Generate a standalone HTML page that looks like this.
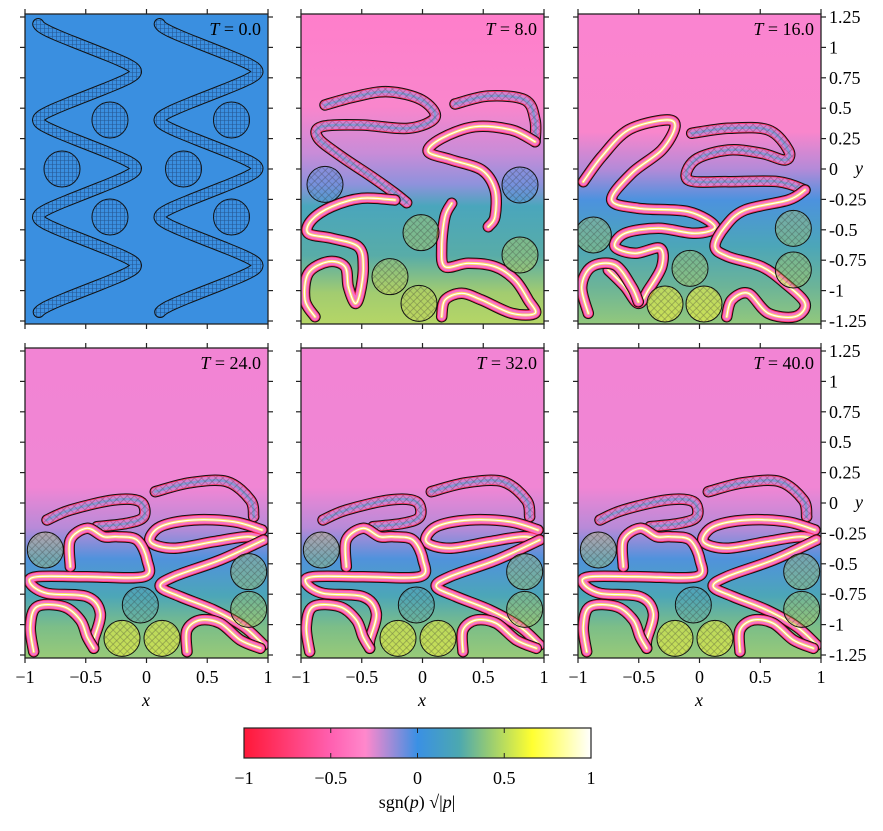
<!DOCTYPE html>
<html><head><meta charset="utf-8"><style>
body{margin:0;background:#fff;width:883px;height:826px;overflow:hidden}
text{font-family:"Liberation Serif",serif;fill:#000}
</style></head><body>
<svg id="s" width="883" height="826" xmlns="http://www.w3.org/2000/svg">
<defs>
<pattern id="hb" width="4" height="4" patternUnits="userSpaceOnUse"><path d="M0 0.5H4M0.5 0V4" stroke="#1a3d70" stroke-width="0.6" opacity="0.7"/></pattern>
<pattern id="hx" width="5" height="5" patternUnits="userSpaceOnUse" patternTransform="rotate(45)"><path d="M0 0.5H5M0.5 0V5" stroke="#333" stroke-width="0.6" opacity="0.5"/></pattern>
<linearGradient id="g2" x1="0" y1="0" x2="0" y2="1">
<stop offset="0" stop-color="#ff7ecb"/><stop offset="0.3" stop-color="#f986cc"/><stop offset="0.45" stop-color="#c88cd8"/><stop offset="0.55" stop-color="#8e92dc"/><stop offset="0.62" stop-color="#4aa6bc"/><stop offset="0.78" stop-color="#58aca8"/><stop offset="0.9" stop-color="#a2cc70"/><stop offset="1" stop-color="#b5d666"/></linearGradient>
<linearGradient id="g3" x1="0" y1="0" x2="0" y2="1">
<stop offset="0" stop-color="#fa84d0"/><stop offset="0.38" stop-color="#f986cc"/><stop offset="0.5" stop-color="#b48ad8"/><stop offset="0.6" stop-color="#4c92de"/><stop offset="0.75" stop-color="#4ca6b8"/><stop offset="0.88" stop-color="#6cb498"/><stop offset="1" stop-color="#92c87c"/></linearGradient>
<linearGradient id="g4" x1="0" y1="0" x2="0" y2="1">
<stop offset="0" stop-color="#f284d4"/><stop offset="0.45" stop-color="#f086d4"/><stop offset="0.58" stop-color="#b88ad8"/><stop offset="0.68" stop-color="#5092dc"/><stop offset="0.8" stop-color="#4ca6b8"/><stop offset="0.9" stop-color="#7cbe88"/><stop offset="1" stop-color="#98ca78"/></linearGradient>
<linearGradient id="gc" x1="0" y1="0" x2="1" y2="0">
<stop offset="0" stop-color="#ff1838"/><stop offset="0.25" stop-color="#ff60b0"/><stop offset="0.35" stop-color="#ff88cc"/><stop offset="0.5" stop-color="#3a90e4"/><stop offset="0.62" stop-color="#4ca8b0"/><stop offset="0.7" stop-color="#90c878"/><stop offset="0.83" stop-color="#ffff30"/><stop offset="1" stop-color="#ffffff"/></linearGradient>
<clipPath id="c1"><rect x="25" y="14" width="243" height="310"/></clipPath>
<clipPath id="c2"><rect x="301" y="14" width="243" height="310"/></clipPath>
<clipPath id="c3"><rect x="578" y="14" width="243" height="310"/></clipPath>
<clipPath id="c4"><rect x="25" y="348" width="243" height="310"/></clipPath>
<clipPath id="c5"><rect x="301" y="348" width="243" height="310"/></clipPath>
<clipPath id="c6"><rect x="578" y="348" width="243" height="310"/></clipPath>
</defs>
</svg>
<script>
const S=document.getElementById('s');const NS='http://www.w3.org/2000/svg';
function el(t,a,p){const e=document.createElementNS(NS,t);for(const k in a)e.setAttribute(k,a[k]);(p||S).appendChild(e);return e;}
function cr(pts){let d='M'+pts[0][0].toFixed(1)+' '+pts[0][1].toFixed(1);for(let i=0;i<pts.length-1;i++){const p0=pts[Math.max(0,i-1)],p1=pts[i],p2=pts[i+1],p3=pts[Math.min(pts.length-1,i+2)];
const c1=[p1[0]+(p2[0]-p0[0])/6,p1[1]+(p2[1]-p0[1])/6],c2=[p2[0]-(p3[0]-p1[0])/6,p2[1]-(p3[1]-p1[1])/6];
d+=` C${c1[0].toFixed(1)} ${c1[1].toFixed(1)} ${c2[0].toFixed(1)} ${c2[1].toFixed(1)} ${p2[0].toFixed(1)} ${p2[1].toFixed(1)}`;}return d;}
function poly(pts){return 'M'+pts.map(p=>p[0].toFixed(1)+' '+p[1].toFixed(1)).join(' L');}
const panels=[[25,14],[301,14],[578,14],[25,348],[301,348],[578,348]];
const bgs=['#3a8fe0','url(#g2)','url(#g3)','url(#g4)','url(#g4)','url(#g4)'];
panels.forEach((p,i)=>el('rect',{x:p[0],y:p[1],width:243,height:310,fill:bgs[i]}));
function band(g,pts,top){const d=cr(pts);const o={d,fill:'none','stroke-linecap':'round','stroke-linejoin':'round'};
 el('path',Object.assign({},o,{stroke:'#111','stroke-width':11.5}),g);
 el('path',Object.assign({},o,{stroke:'#ff2a5a','stroke-width':9.5}),g);
 el('path',Object.assign({},o,{stroke:top?'#d880d0':'#f574c6','stroke-width':8}),g);
 if(!top){el('path',Object.assign({},o,{stroke:'#ffff50','stroke-width':3,opacity:0.8}),g);
 el('path',Object.assign({},o,{stroke:'#ffffff','stroke-width':1.2}),g);}
 else el('path',Object.assign({},o,{stroke:'#6aa0d8','stroke-width':2.5,opacity:0.7}),g);
 if(top) el('path',Object.assign({},o,{stroke:'url(#hx)','stroke-width':8}),g);}
function circ(g,cx,cy,fill,op){el('circle',{cx,cy,r:18,fill:fill||'#68a8a0','fill-opacity':op||0.35,stroke:'#111','stroke-width':1},g);el('circle',{cx,cy,r:18,fill:'url(#hx)'},g);}
{const g=el('g',{'clip-path':'url(#c1)'});
 for(let k=0;k<2;k++){const ox=k*121.5;const pts=[];
  for(let py=24;py<=312;py+=1.5){const ph=(py-120)/48.5*Math.PI;const v=Math.asin(0.9*Math.cos(ph))/Math.asin(0.9);pts.push([ox+87-v*49,py]);}
  const d=poly(pts);
  el('path',{d,fill:'none',stroke:'#111','stroke-width':12,'stroke-linecap':'round','stroke-linejoin':'round'},g);
  el('path',{d,fill:'none',stroke:'#3a8fe0','stroke-width':10,'stroke-linecap':'round','stroke-linejoin':'round'},g);
  el('path',{d,fill:'none',stroke:'url(#hb)','stroke-width':10,'stroke-linecap':'round','stroke-linejoin':'round'},g);
  [[110,120],[62,169],[110,217]].forEach(c=>{el('circle',{cx:c[0]+ox,cy:c[1],r:18,fill:'#3a8fe0',stroke:'#111','stroke-width':1},g);el('circle',{cx:c[0]+ox,cy:c[1],r:18,fill:'url(#hb)'},g);});
 }}
const z3=a=>a.map(q=>[295+q[0]/3,80+q[1]/3]);
{const g=el('g',{'clip-path':'url(#c2)'});
 [[[90,75],[180,50],[280,35],[380,60],[420,112],[340,145],[200,135],[80,140],[70,175],[140,230],[230,290],[300,340],[335,368]],
  [[480,72],[580,48],[690,60],[720,120],[720,185]]].forEach(b=>band(g,z3(b),true));
 [[[720,185],[650,150],[540,140],[440,175],[400,215],[470,240],[560,270],[600,330],[600,410],[580,440]],
  [[300,360],[200,355],[110,380],[50,420],[40,460],[110,475],[190,500],[205,560],[195,640],[180,670],[160,620],[150,560],[100,545],[40,580],[30,660],[60,710]],
  [[470,370],[450,410],[440,500],[450,560],[520,550],[600,560],[660,600],[700,660],[720,700],[650,700],[560,660],[500,640],[450,660],[440,710]]].forEach(b=>band(g,z3(b)));
 z3([[90,313],[675,315]]).forEach(c=>circ(g,c[0],c[1],'#4a90e0'));
 z3([[378,458],[675,525],[285,590],[372,670]]).forEach(c=>circ(g,c[0],c[1],'#c8d850'));}
{const g=el('g',{'clip-path':'url(#c3)'});
 [[[1190,160],[1300,145],[1420,150],[1480,210],[1470,240],[1400,220],[1300,210],[1200,240],[1180,300],[1300,305],[1450,305],[1530,330]]].forEach(b=>band(g,z3(b),true));
 [[[865,305],[920,230],[1000,150],[1110,120],[1140,140],[1100,210],[1010,280],[950,360],[1030,385],[1180,395],[1260,440],[1200,460],[1090,445],[990,460],[960,500],[1020,520],[1095,505],[1100,560],[1060,630],[1030,670],[990,620],[940,570]],
  [[1530,330],[1480,360],[1350,390],[1290,440],[1260,500],[1300,530],[1400,560],[1470,610],[1530,670],[1500,710],[1420,700],[1360,640],[1310,660],[1295,710]],
  [[880,700],[860,620],[890,560],[960,555],[1010,620],[1030,665]]].forEach(b=>band(g,z3(b)));
 z3([[895,465],[1495,445],[1495,570],[1185,565]]).forEach(c=>circ(g,c[0],c[1],'#c8d850',0.3));
 z3([[1110,672],[1227,672]]).forEach(c=>circ(g,c[0],c[1],'#f0f040',0.6));}
const z2=(a,ox)=>a.map(q=>[540+q[0]/3+ox,320+q[1]/3]);
[[-553,4],[-277,5],[0,6]].forEach(([ox,n])=>{const g=el('g',{'clip-path':`url(#c${n})`});
 [[[180,600],[250,570],[380,540],[460,545],[470,590],[420,610],[330,620]],
  [[505,515],[610,488],[720,485],[790,540],[800,590]]].forEach(b=>band(g,z2(b,ox),true));
 [[[825,630],[740,605],[620,600],[520,620],[490,665],[560,685],[680,665],[780,650],[830,660]],
  [[830,660],[700,720],[560,770],[520,800],[580,830],[680,870],[770,920],[830,975]],
  [[600,995],[600,930],[640,900],[700,910],[760,960],[820,985]],
  [[250,740],[250,660],[300,625],[350,650],[390,650],[450,660],[480,720],[470,770],[300,770],[150,770],[130,790],[180,820],[300,830],[340,880],[320,960],[320,985]],
  [[140,995],[130,920],[150,860],[230,860],[280,900],[300,950],[320,985]]].forEach(b=>band(g,z2(b,ox)));
 z2([[175,690],[785,755],[785,868]],ox).forEach(c=>circ(g,c[0],c[1],'#c8d850',0.3));
 z2([[460,855]],ox).forEach(c=>circ(g,c[0],c[1],'#5aa4b0',0.3));
 z2([[405,955],[525,955]],ox).forEach(c=>circ(g,c[0],c[1],'#e8ec40',0.6));});
const titles=['0.0','8.0','16.0','24.0','32.0','40.0'];
panels.forEach((p,i)=>{const [x0,y0]=p;
 el('rect',{x:x0,y:y0,width:243,height:310,fill:'none',stroke:'#222','stroke-width':1.3});
 for(let k=0;k<5;k++){const x=x0+k*60.75;el('line',{x1:x,x2:x,y1:y0,y2:y0-5,stroke:'#222','stroke-width':1.2});el('line',{x1:x,x2:x,y1:y0+310,y2:y0+315,stroke:'#222','stroke-width':1.2});}
 for(let k=0;k<11;k++){const y=y0+3+k*30.4;el('line',{x1:x0,x2:x0-5,y1:y,y2:y,stroke:'#222','stroke-width':1.2});el('line',{x1:x0+243,x2:x0+248,y1:y,y2:y,stroke:'#222','stroke-width':1.2});}
 const t=el('text',{x:x0+236,y:y0+21,'text-anchor':'end','font-size':18});
 t.innerHTML='<tspan font-style="italic">T</tspan> = '+titles[i];
 if(i>=3){['−1','−0.5','0','0.5','1'].forEach((s,k)=>{const tt=el('text',{x:x0+k*60.75,y:y0+335,'text-anchor':'middle','font-size':18});tt.textContent=s;});
  const xl=el('text',{x:x0+121,y:y0+358,'text-anchor':'middle','font-size':18,'font-style':'italic'});xl.textContent='x';}
 if(i==2||i==5){['1.25','1','0.75','0.5','0.25','0','-0.25','-0.5','-0.75','-1','-1.25'].forEach((s,k)=>{const tt=el('text',{x:x0+251,y:y0+9+k*30.4,'font-size':18});tt.textContent=s;});
  const yl=el('text',{x:x0+277,y:y0+160,'font-size':18,'font-style':'italic'});yl.textContent='y';}
});
el('rect',{x:244,y:728,width:347,height:30,fill:'url(#gc)',stroke:'#222','stroke-width':1.2});
['−1','−0.5','0','0.5','1'].forEach((s,k)=>{const x=244+k*86.75;
 if(k>0&&k<4){el('line',{x1:x,x2:x,y1:728,y2:733,stroke:'#222','stroke-width':1});el('line',{x1:x,x2:x,y1:758,y2:753,stroke:'#222','stroke-width':1});}
 const t=el('text',{x,y:784,'text-anchor':'middle','font-size':18});t.textContent=s;});
const cl=el('text',{x:417,y:808,'text-anchor':'middle','font-size':18});
cl.innerHTML='sgn(<tspan font-style="italic">p</tspan>) √|<tspan font-style="italic">p</tspan>|';
</script>
</body></html>
